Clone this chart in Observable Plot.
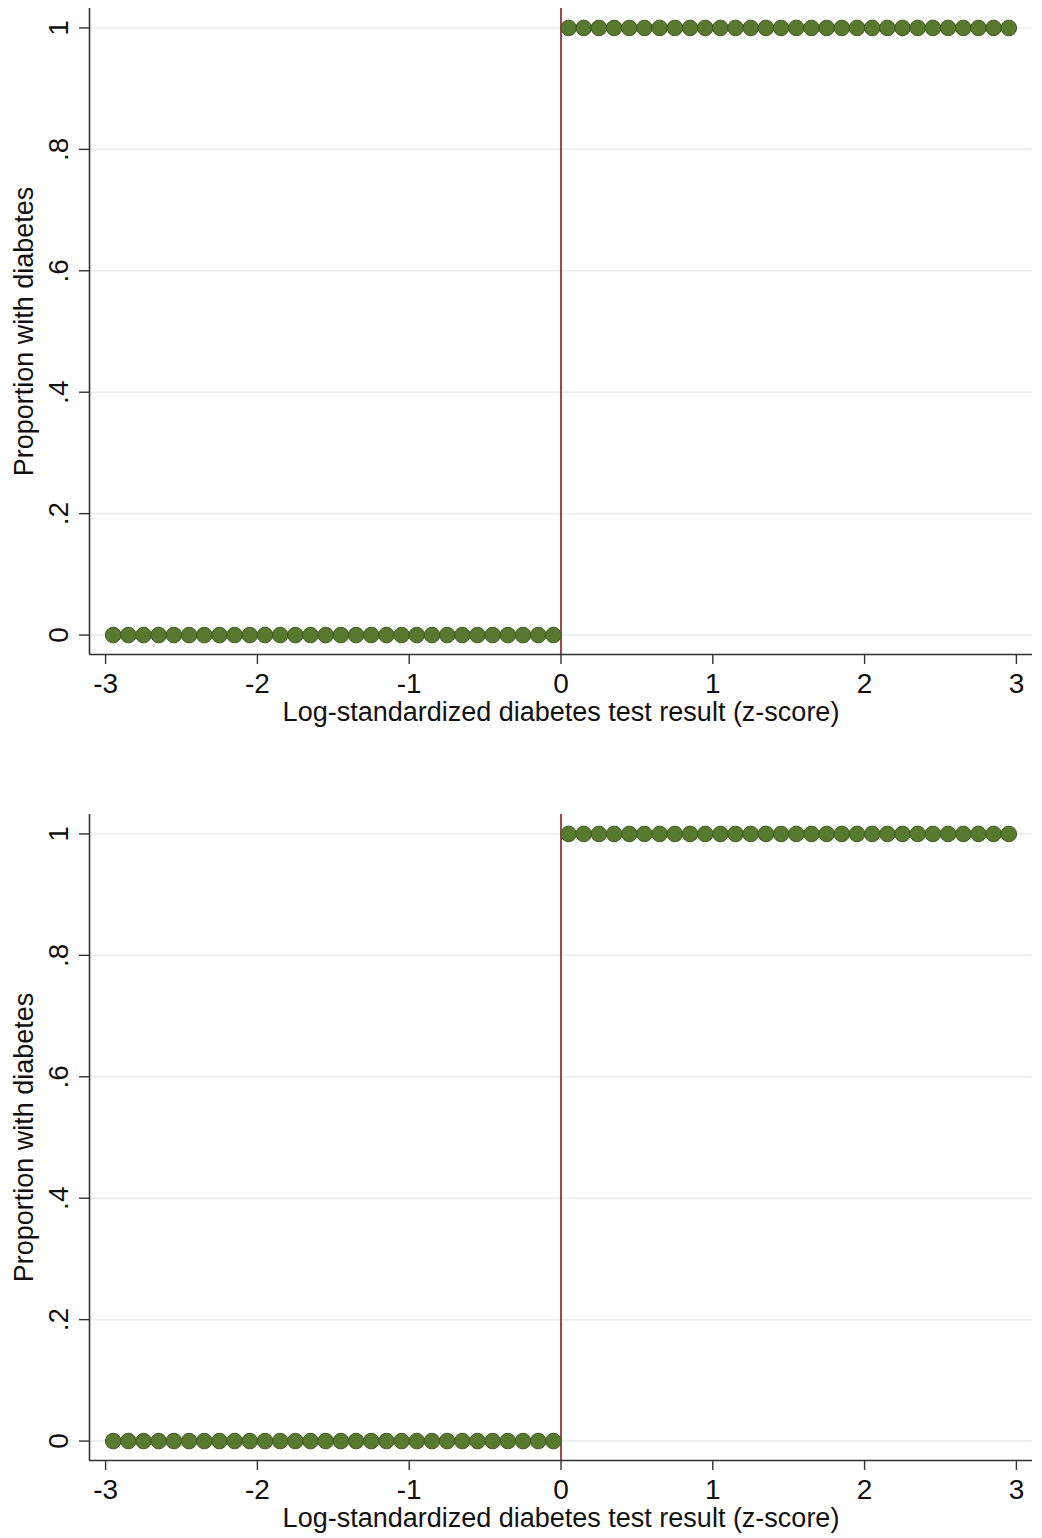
<!DOCTYPE html>
<html>
<head>
<meta charset="utf-8">
<script src="https://cdn.jsdelivr.net/npm/d3@7"></script>
<script src="https://cdn.jsdelivr.net/npm/@observablehq/plot@0.6"></script>
<style>
  html, body { margin: 0; padding: 0; background: #fff; overflow: hidden; }
  #p1, #p2 { display: block; }
  #p2 { margin-top: 66px; }
  svg { display: block; font-family: "Liberation Sans", Arial, Helvetica, sans-serif; }
</style>
</head>
<body>
<div id="p1"></div>
<div id="p2"></div>
<script>
// Binned test results (z-score bin midpoints) and proportion with diabetes
const zBelow = [-2.95, -2.85, -2.75, -2.65, -2.55, -2.45, -2.35, -2.25, -2.15, -2.05,
                -1.95, -1.85, -1.75, -1.65, -1.55, -1.45, -1.35, -1.25, -1.15, -1.05,
                -0.95, -0.85, -0.75, -0.65, -0.55, -0.45, -0.35, -0.25, -0.15, -0.05];
const propBelow = [0, 0, 0, 0, 0, 0, 0, 0, 0, 0,
                   0, 0, 0, 0, 0, 0, 0, 0, 0, 0,
                   0, 0, 0, 0, 0, 0, 0, 0, 0, 0];
const zAbove = [0.05, 0.15, 0.25, 0.35, 0.45, 0.55, 0.65, 0.75, 0.85, 0.95,
                1.05, 1.15, 1.25, 1.35, 1.45, 1.55, 1.65, 1.75, 1.85, 1.95,
                2.05, 2.15, 2.25, 2.35, 2.45, 2.55, 2.65, 2.75, 2.85, 2.95];
const propAbove = [1, 1, 1, 1, 1, 1, 1, 1, 1, 1,
                   1, 1, 1, 1, 1, 1, 1, 1, 1, 1,
                   1, 1, 1, 1, 1, 1, 1, 1, 1, 1];
const cutoff = [0];
const xTicks = [-3, -2, -1, 0, 1, 2, 3];
const xTickLabels = ["-3", "-2", "-1", "0", "1", "2", "3"];
const yTicks = [0, 0.2, 0.4, 0.6, 0.8, 1];
const yTickLabels = ["0", ".2", ".4", ".6", ".8", "1"];
const xTitle = "Log-standardized diabetes test result (z-score)";
const yTitle = "Proportion with diabetes";

const points = zBelow.map((z, i) => ({z, p: propBelow[i]}))
  .concat(zAbove.map((z, i) => ({z, p: propAbove[i]})));

const xDomain = [-3.106, 3.106];
const yDomain = [-0.032, 1.032];

function makePanel(height, marginBottom) {
  return Plot.plot({
    width: 1042,
    height,
    marginTop: 8,
    marginBottom,
    marginLeft: 89,
    marginRight: 10,
    style: {fontFamily: '"Liberation Sans", Arial, Helvetica, sans-serif', background: "#fff"},
    x: {domain: xDomain},
    y: {domain: yDomain},
    marks: [
      Plot.gridY(yTicks, {stroke: "#e6eded", strokeOpacity: 1, strokeWidth: 1.5}),
      Plot.ruleX(cutoff, {stroke: "#8b1a22", strokeWidth: 1.6}),
      Plot.dot(points, {x: "z", y: "p", r: 7.8, fill: "#587a2e", stroke: "#3e5a22", strokeWidth: 1, symbol: "circle"}),
      Plot.ruleY([yDomain[0]], {stroke: "#333", strokeWidth: 1.6}),
      Plot.ruleX([xDomain[0]], {stroke: "#333", strokeWidth: 1.6}),
      Plot.axisX(xTicks, {
        tickFormat: (d) => xTickLabels[xTicks.indexOf(d)],
        tickSize: 10, tickPadding: 9, fontSize: 28, label: null,
        stroke: "#333", strokeWidth: 1.4, fill: "#111"
      }),
      Plot.axisY(yTicks, {
        tickFormat: (d) => yTickLabels[yTicks.indexOf(d)],
        tickSize: 10, tickPadding: 12, fontSize: 28, tickRotate: -90, label: null,
        stroke: "#333", strokeWidth: 1.4, fill: "#111"
      }),
      Plot.text([xTitle], {frameAnchor: "bottom", textAnchor: "middle", lineAnchor: "bottom", dy: 66, fontSize: 27, fill: "#111"}),
      Plot.text([yTitle], {frameAnchor: "left", textAnchor: "middle", lineAnchor: "bottom", rotate: -90, dx: -57, fontSize: 27, fill: "#111"})
    ]
  });
}

document.getElementById("p1").append(makePanel(740, 86));
document.getElementById("p2").append(makePanel(732, 78));
</script>
</body>
</html>
